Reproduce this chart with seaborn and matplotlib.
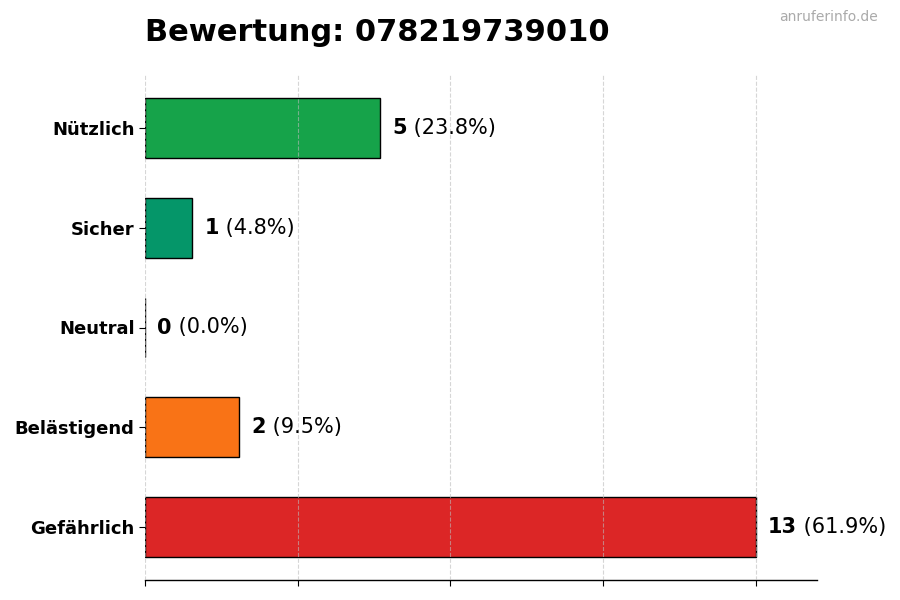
import matplotlib
matplotlib.use("Agg")
import matplotlib.pyplot as plt
import seaborn as sns
import numpy as np
import pandas as pd

# Data
categories = ["Nützlich", "Sicher", "Neutral", "Belästigend", "Gefährlich"]
counts = [5, 1, 0, 2, 13]
colors = ["#16a34a", "#059669", "#6b7280", "#f97316", "#dc2626"]
number = "078219739010"

total = sum(counts)
df = pd.DataFrame({"Kategorie": categories, "Anzahl": counts})

sns.set_style("white", {"xtick.bottom": True, "ytick.left": True,
                        "text.color": "black", "axes.labelcolor": "black",
                        "xtick.color": "black", "ytick.color": "black"})
plt.rcParams["font.family"] = ["DejaVu Sans"]

fig = plt.figure(figsize=(9, 6), dpi=100)
ax = fig.add_axes([145 / 900, 20 / 600, 672 / 900, 505 / 600])

sns.barplot(
    data=df, x="Anzahl", y="Kategorie", hue="Kategorie",
    palette=colors, orient="h", width=0.6, saturation=1,
    edgecolor="black", linewidth=1, legend=False, ax=ax
)

max_val = max(counts)
ax.set_xlim(0, max_val * 1.1)
ax.set_ylim(len(categories) - 1 + 0.53, -0.53)
ax.set_xticks(np.linspace(0, max_val, 5))
ax.set_xticklabels([])
ax.set_xlabel("")
ax.set_ylabel("")
ax.set_axisbelow(False)
ax.grid(axis="x", linestyle="--", color="#bbbbbb", alpha=0.6, linewidth=0.8)
ax.tick_params(axis="both", length=4, color="black", width=0.8,
               bottom=True, left=True)
ax.tick_params(axis="y", labelsize=13, labelcolor="black")
for lab in ax.get_yticklabels():
    lab.set_fontweight("bold")

for s in ["top", "right", "left"]:
    ax.spines[s].set_visible(False)
ax.spines["bottom"].set_color("black")
ax.spines["bottom"].set_linewidth(1)

# value labels
offset = max_val * 0.02
for i, v in enumerate(counts):
    pct = v / total * 100
    t = ax.text(v + offset, i, f"{v}", fontsize=15, fontweight="bold",
                va="center", ha="left", color="black")
    ax.annotate(f" ({pct:.1f}%)", xy=(1, 0), xycoords=t,
                fontsize=15, va="bottom", ha="left", color="black")

fig.text(145 / 900, 1 - 41 / 600, f"Bewertung: {number}",
         fontsize=22, fontweight="bold", va="baseline", ha="left",
         color="black")
fig.text(878 / 900, 1 - 17 / 600, "anruferinfo.de", fontsize=10,
         color="#aaaaaa", ha="right", va="center")

fig.savefig("out.png", dpi=100)
